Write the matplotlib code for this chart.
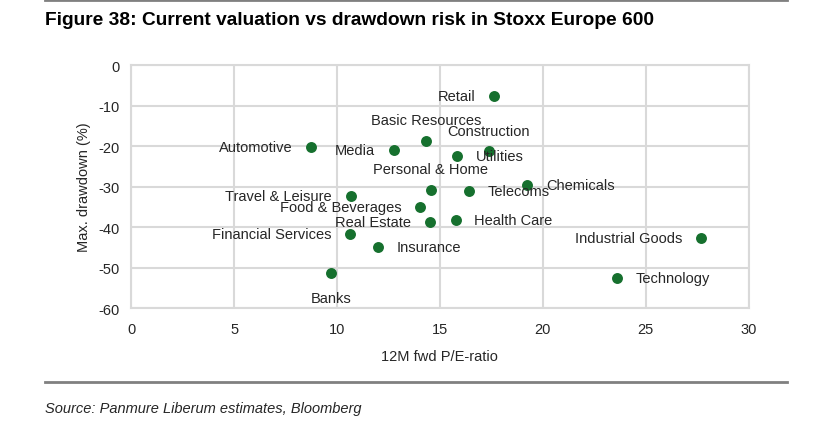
#Description
"""
Scatter of current valuation (12M fwd P/E) vs max drawdown for Stoxx Europe 600 sectors.
Saves the chart as out.png
"""

#Libraries
import matplotlib.pyplot as plt
from matplotlib.lines import Line2D

#Data
sectors = ['Retail', 'Basic Resources', 'Construction', 'Automotive', 'Media',
           'Utilities', 'Personal & Home', 'Telecoms', 'Chemicals',
           'Travel & Leisure', 'Food & Beverages', 'Real Estate', 'Health Care',
           'Financial Services', 'Insurance', 'Industrial Goods', 'Banks',
           'Technology']
pe_ratio = [17.65, 14.32, 17.38, 8.74, 12.77, 15.83, 14.56, 16.42, 19.24,
            10.66, 14.05, 14.51, 15.76, 10.63, 11.97, 27.7, 9.69, 23.6]
max_drawdown = [-7.5, -18.8, -21.3, -20.2, -21.0, -22.5, -30.9, -31.1, -29.7,
                -32.3, -35.0, -38.8, -38.3, -41.7, -44.8, -42.6, -51.2, -52.6]
label_side = ['left', 'above', 'above', 'left', 'left', 'right', 'above', 'right',
              'right', 'left', 'left', 'left', 'right', 'left', 'right', 'left',
              'below', 'right']
x_ticks = [0, 5, 10, 15, 20, 25, 30]
y_ticks = [0, -10, -20, -30, -40, -50, -60]

#Constants
FONT = 'Liberation Sans'
GREEN = '#16702e'
GRID = '#d9d9d9'
TEXT = '#262626'
FS = 10.5
OFFSETS = {
    'left': ((-13.5, 0), 'right', 'center'),
    'right': ((13.5, 0), 'left', 'center'),
    'above': ((0, 15), 'center', 'center'),
    'below': ((0, -18), 'center', 'center'),
}


#Main
def main():
    plt.rcParams['font.family'] = [FONT, 'DejaVu Sans']
    plt.rcParams['axes.unicode_minus'] = False

    fig = plt.figure(figsize=(8.2, 4.27), dpi=100)
    ax = fig.add_axes([0.160, 0.276, 0.753, 0.569])

    ##Points
    ax.scatter(pe_ratio, max_drawdown, s=62, color=GREEN, zorder=3,
               linewidths=0)

    ##Labels
    for name, x, y, side in zip(sectors, pe_ratio, max_drawdown, label_side):
        offset, ha, va = OFFSETS[side]
        ax.annotate(name, (x, y), xytext=offset, textcoords='offset points',
                    ha=ha, va=va, fontsize=FS, color=TEXT, zorder=4)

    ##Axes
    ax.set_xlim(0, 30)
    ax.set_ylim(-60, 0)
    ax.set_xticks(x_ticks)
    ax.set_yticks(y_ticks)
    ax.grid(True, color=GRID, linewidth=1.5, zorder=0)
    ax.set_axisbelow(True)
    for spine in ax.spines.values():
        spine.set_color(GRID)
        spine.set_linewidth(1.5)
    ax.tick_params(length=0, labelsize=FS, labelcolor=TEXT)
    ax.tick_params(axis='x', pad=10)
    ax.tick_params(axis='y', pad=8)
    ax.set_xlabel('12M fwd P/E-ratio', fontsize=FS, color=TEXT, labelpad=9)
    ax.set_ylabel('Max. drawdown (%)', fontsize=FS, color=TEXT, labelpad=6)

    ##Title, rules and source
    fig.text(0.055, 0.953, 'Figure 38: Current valuation vs drawdown risk in Stoxx Europe 600',
             fontsize=13.75, fontweight='bold', color='black', va='center')
    fig.add_artist(Line2D([0.055, 0.96], [0.997, 0.997], color='#808080', linewidth=2))
    fig.add_artist(Line2D([0.055, 0.96], [0.103, 0.103], color='#808080', linewidth=2))
    fig.text(0.055, 0.042, 'Source: Panmure Liberum estimates, Bloomberg',
             fontsize=10.5, style='italic', color=TEXT, va='center')

    fig.savefig('out.png', dpi=100)
    plt.close()


#Execution
if __name__ == '__main__':
    main()
